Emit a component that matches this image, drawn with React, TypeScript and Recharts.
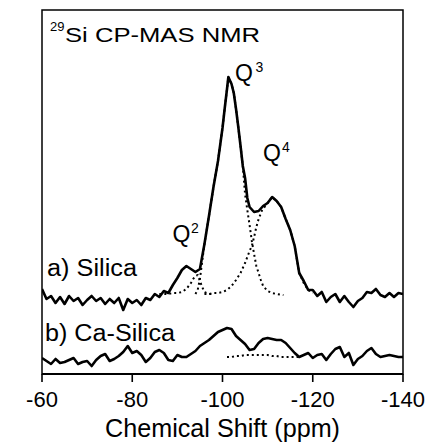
import React from 'react';
import { LineChart, Line, XAxis, YAxis, ReferenceArea } from 'recharts';

// ---- data (intensity in arbitrary units, stacked offsets included) ----
const silicaPpm = [
  -60, -61, -62, -63, -64, -65, -66, -67, -68, -69, -70, -71, -72, -73, -74, -75, -76, -77, -78, -79,
  -80, -81, -82, -83, -84, -85, -86, -87, -88, -89, -90, -91, -92, -93, -94, -95, -96, -97, -98, -99,
  -100, -100.5, -101, -101.3, -102, -102.5, -103, -103.5, -104, -104.5, -105, -105.5, -106, -107, -108, -109,
  -110, -111, -112, -113, -114, -115, -116, -117, -118, -119, -120, -121, -122, -123, -124, -125, -126, -127,
  -128, -129, -130, -131, -132, -133, -134, -135, -136, -137, -138, -139, -140,
];
const silicaIntensity = [
  85, 75, 78, 71, 77, 70, 78, 73, 76, 69, 74, 78, 73, 76, 70, 75, 71, 76, 64, 75,
  71, 74, 69, 76, 74, 80, 77, 83, 81, 89, 96, 104, 108, 105, 102, 105, 130, 158, 187, 213,
  246, 266, 285, 297, 290, 281, 265, 247, 228, 208, 196, 176, 167, 162, 163, 168,
  171, 177, 173, 167, 155, 144, 128, 101, 93, 84, 84, 78, 82, 72, 77, 80, 72, 78,
  72, 67, 73, 76, 82, 81, 85, 79, 77, 81, 77, 81, 80,
];

const q2Ppm = [-86, -87, -88, -89, -90, -91, -92, -93, -93.5, -94, -94.5, -95, -95.5, -96, -97, -98];
const q2Fit = [80, 80, 80, 81, 81, 82, 85, 91, 95, 98, 99, 93, 87, 82, 80, 80];

const q3Ppm = [
  -94, -94.5, -95, -96, -97, -98, -99, -100, -100.5, -101, -101.3, -102, -102.5, -103, -103.5, -104, -104.5,
  -105, -105.5, -106, -106.5, -107, -107.5, -108, -108.5, -109, -110, -111, -112, -113.5,
];
const q3Fit = [
  80, 84, 95, 130, 158, 187, 213, 246, 266, 285, 297, 290, 281, 265, 247, 228, 208,
  180, 164, 149, 133, 120, 108, 101, 94, 88, 83, 81, 80, 79,
];

const q4Ppm = [
  -96, -97, -98, -99, -100, -101, -102, -103, -104, -105, -105.5, -106, -106.5, -107, -107.5, -108, -108.8,
  -110, -111, -112, -113, -114, -115, -116, -117, -118, -119, -120,
];
const q4Fit = [
  80, 80, 81, 81, 82, 84, 88, 94, 101, 111, 117, 123, 128, 137, 147, 155, 164,
  171, 177, 173, 167, 155, 144, 128, 101, 91, 84, 81,
];

const caPpm = [
  -60, -61, -62, -63, -64, -65, -66, -67, -68, -69, -70, -71, -72, -73, -74, -75, -76, -77, -78, -79,
  -80, -81, -82, -83, -84, -85, -86, -87, -88, -89, -90, -91, -92, -93, -94, -95, -96, -97, -98, -99,
  -100, -101, -102, -103, -104, -105, -106, -107, -108, -109, -110, -111, -112, -113, -114, -115, -116, -117, -118, -119,
  -120, -121, -122, -123, -124, -125, -126, -127, -128, -129, -130, -131, -132, -133, -134, -135, -136, -137, -138, -139, -140,
];
const caIntensity = [
  16, 13, 10, 15, 11, 12, 14, 16, 10, 12, 13, 8, 14, 18, 20, 13, 15, 18, 22, 28,
  21, 23, 19, 12, 16, 22, 24, 21, 14, 13, 19, 17, 17, 20, 23, 28, 31, 34, 38, 42,
  44, 46, 45, 38, 34, 30, 24, 25, 31, 35, 36, 35, 34, 34, 31, 26, 21, 17, 19, 21,
  16, 19, 20, 14, 20, 25, 27, 17, 21, 9, 15, 18, 23, 26, 20, 17, 18, 19, 18, 17, 17,
];

const caFitPpm = [-101, -102, -103, -104, -105, -106, -107, -108, -109, -110, -111, -112, -113, -114, -115, -116, -117];
const caFit = [17, 17, 18, 18, 19, 19, 19, 19, 19, 19, 18, 18, 17, 17, 17, 17, 17];

const xTicks = [-60, -80, -100, -120, -140];

const rows = (ppm: number[], v: number[]) => ppm.map((p, i) => ({ ppm: p, v: v[i] }));

const FONT = '"Liberation Sans", Arial, Helvetica, sans-serif';

const XLabel = () => (
  <text x={222.5} y={437} textAnchor="middle" fontSize={25} fontFamily={FONT} fill="#000"
    textLength={235} lengthAdjust="spacingAndGlyphs">
    Chemical Shift (ppm)
  </text>
);

const YLabel = () => (
  <text x={39} y={192} transform="rotate(-90, 39, 192)" textAnchor="middle" fontSize={23}
    fontFamily={FONT} fill="#000" textLength={208} lengthAdjust="spacingAndGlyphs">
    Intensity (arb. unit)
  </text>
);

const Annotations = () => (
  <g fontFamily={FONT} fill="#000">
    <text x={50} y={31} fontSize={13}>29</text>
    <text x={65} y={42} fontSize={21} textLength={195} lengthAdjust="spacingAndGlyphs">Si CP-MAS NMR</text>
    <text x={235} y={81} fontSize={23}>Q</text>
    <text x={255.5} y={72} fontSize={14}>3</text>
    <text x={263} y={161} fontSize={23}>Q</text>
    <text x={282} y={152} fontSize={14}>4</text>
    <text x={172.5} y={242} fontSize={23}>Q</text>
    <text x={191} y={233} fontSize={14}>2</text>
    <text x={47} y={276} fontSize={23} textLength={90} lengthAdjust="spacingAndGlyphs">a) Silica</text>
    <text x={45} y={341} fontSize={23} textLength={130} lengthAdjust="spacingAndGlyphs">b) Ca-Silica</text>
  </g>
);

export default function App() {
  const solid = { stroke: '#000', strokeWidth: 2.6, dot: false as const, isAnimationActive: false, type: 'linear' as const, strokeLinejoin: 'round' as const };
  const dashed = { stroke: '#000', strokeWidth: 2, strokeDasharray: '2 3', dot: false as const, isAnimationActive: false, type: 'linear' as const };
  return (
    <div style={{ position: 'absolute', left: 0, top: 0, width: 429, height: 442, background: '#fff' }}>
      <LineChart width={429} height={442} margin={{ top: 10, right: 26, bottom: 0, left: 42 }}>
        <XAxis
          dataKey="ppm"
          type="number"
          domain={[-140, -60]}
          reversed
          ticks={xTicks}
          allowDataOverflow
          height={68}
          tickSize={8}
          tickMargin={9}
          axisLine={{ stroke: '#000', strokeWidth: 2 }}
          tickLine={{ stroke: '#000', strokeWidth: 1.6 }}
          tick={{ fontSize: 22, fill: '#000', fontFamily: FONT }}
          label={<XLabel />}
        />
        <YAxis
          type="number"
          domain={[0, 364]}
          allowDataOverflow
          width={0}
          tick={false}
          tickLine={false}
          axisLine={{ stroke: '#000', strokeWidth: 1.6 }}
          label={<YLabel />}
        />
        <ReferenceArea x1={-60} x2={-140} y1={0} y2={364} fill="none" stroke="#000" strokeWidth={1.5} ifOverflow="visible" />
        <Line data={rows(q2Ppm, q2Fit)} dataKey="v" {...dashed} />
        <Line data={rows(q3Ppm, q3Fit)} dataKey="v" {...dashed} />
        <Line data={rows(q4Ppm, q4Fit)} dataKey="v" {...dashed} />
        <Line data={rows(caFitPpm, caFit)} dataKey="v" {...dashed} />
        <Line data={rows(silicaPpm, silicaIntensity)} dataKey="v" {...solid} />
        <Line data={rows(caPpm, caIntensity)} dataKey="v" {...solid} />
        <Annotations />
      </LineChart>
    </div>
  );
}
